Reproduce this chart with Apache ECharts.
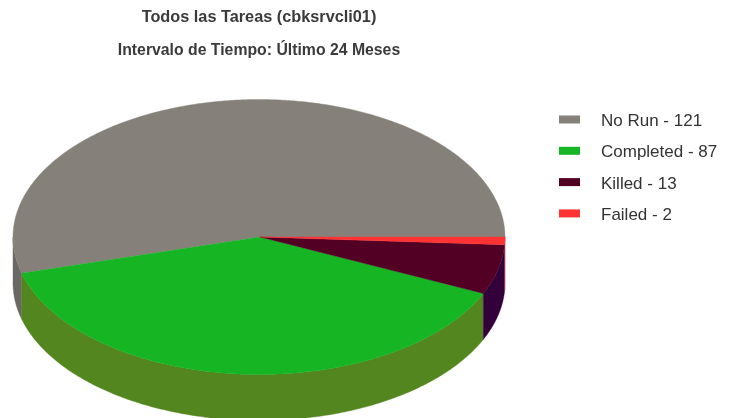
<!DOCTYPE html>
<html>
<head>
<meta charset="utf-8">
<title>Todos las Tareas</title>
<script src="https://cdn.jsdelivr.net/npm/echarts@6/dist/echarts.min.js"></script>
<style>
  html, body { margin: 0; padding: 0; background: #fff; }
  #chart { width: 734px; height: 418px; }
</style>
</head>
<body>
<div id="chart"></div>
<script>
var taskNames = ["No Run", "Completed", "Killed", "Failed"];
var taskCounts = [121, 87, 13, 2];
var topColors = ["#85817a", "#15b524", "#520024", "#ff3333"];
var sideColors = ["#6b6764", "#53861e", "#33003a", "#a32a48"];

var total = taskCounts.reduce(function (a, b) { return a + b; }, 0);

// fake 3D pie: an ellipse for the top face plus the visible front wall
var cx = 259, cy = 237, rx = 246, ry = 137.5, depth = 46;
var apexX = 260;

function rimPoint(deg, drop) {
  var a = (deg * Math.PI) / 180;
  return [cx + rx * Math.cos(a), cy + ry * Math.sin(a) * -1 + drop];
}

function arcPoints(from, to, drop) {
  var pts = [];
  var steps = Math.max(2, Math.ceil(Math.abs(to - from) * 2));
  for (var i = 0; i <= steps; i++) {
    pts.push(rimPoint(from + ((to - from) * i) / steps, drop));
  }
  return pts;
}

function sliceAngles(index) {
  var before = 0;
  for (var i = 0; i < index; i++) before += taskCounts[i];
  return [(before / total) * 360, ((before + taskCounts[index]) / total) * 360];
}

function makeRenderItem(index) {
  return function () {
    var angles = sliceAngles(index);
    var children = [];
    // only the part of the rim below the horizontal axis shows a wall
    var wallFrom = Math.max(angles[0], 180);
    var wallTo = angles[1];
    if (wallTo > wallFrom) {
      var wall = arcPoints(wallFrom, wallTo, 0).concat(arcPoints(wallTo, wallFrom, depth));
      children.push({
        type: "polygon",
        shape: { points: wall },
        style: { fill: sideColors[index], stroke: sideColors[index], lineWidth: 0.4 }
      });
    }
    var face = [[apexX, cy]].concat(arcPoints(angles[0], angles[1], 0));
    children.push({
      type: "polygon",
      shape: { points: face },
      style: { fill: topColors[index], stroke: topColors[index], lineWidth: 0.4 }
    });
    return { type: "group", children: children };
  };
}

var legendNames = taskNames.map(function (name, i) {
  return name + " - " + taskCounts[i];
});

var series = taskNames.map(function (name, i) {
  return {
    type: "custom",
    name: legendNames[i],
    coordinateSystem: "none",
    data: [taskCounts[i]],
    itemStyle: { color: topColors[i] },
    renderItem: makeRenderItem(i),
    silent: true
  };
});

var chart = echarts.init(document.getElementById("chart"), null, { renderer: "canvas" });
chart.setOption({
  animation: false,
  backgroundColor: "#ffffff",
  textStyle: { fontFamily: "Liberation Sans" },
  title: [
    {
      text: "Todos las Tareas (cbksrvcli01)",
      left: 254,
      top: 5,
      textAlign: "center",
      textStyle: { fontSize: 16.3, fontWeight: "bold", color: "#3a3a3a", fontFamily: "Liberation Sans" }
    },
    {
      text: "Intervalo de Tiempo: Último 24 Meses",
      left: 254,
      top: 38,
      textAlign: "center",
      textStyle: { fontSize: 15.8, fontWeight: "bold", color: "#3a3a3a", fontFamily: "Liberation Sans" }
    }
  ],
  legend: {
    orient: "vertical",
    left: 559,
    top: 109,
    icon: "rect",
    itemWidth: 21,
    itemHeight: 8,
    itemGap: 10.3,
    padding: 0,
    selectedMode: false,
    data: legendNames,
    formatter: function (name) {
      return "{t|" + name + "}";
    },
    textStyle: {
      fontSize: 17,
      color: "#333333",
      fontFamily: "Liberation Sans",
      rich: {
        t: {
          fontSize: 17,
          color: "#333333",
          fontFamily: "Liberation Sans",
          lineHeight: 20,
          padding: [4, 0, 0, 16]
        }
      }
    }
  },
  series: series
});
</script>
</body>
</html>
